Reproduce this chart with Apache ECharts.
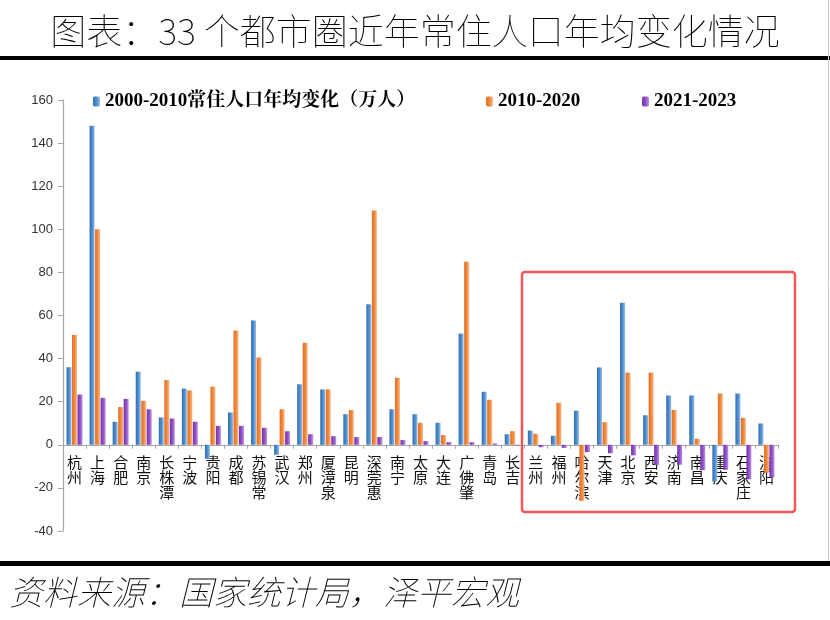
<!DOCTYPE html>
<html>
<head>
<meta charset="utf-8">
<script src="https://cdn.jsdelivr.net/npm/echarts@6/dist/echarts.min.js"></script>
<style>
  html, body { margin: 0; padding: 0; background: #fff; }
  #chart { width: 830px; height: 620px; }
</style>
</head>
<body>
<div id="chart"></div>
<script>
  const CITIES = ['杭州', '上海', '合肥', '南京', '长株潭', '宁波', '贵阳', '成都', '苏锡常', '武汉',
    '郑州', '厦漳泉', '昆明', '深莞惠', '南宁', '太原', '大连', '广佛肇', '青岛', '长吉',
    '兰州', '福州', '哈尔滨', '天津', '北京', '西安', '济南', '南昌', '重庆', '石家庄', '沈阳'];

  const SERIES_NAMES = ['2000-2010常住人口年均变化（万人）', '2010-2020', '2021-2023'];

  const V_2000_2010 = [36, 148, 10.7, 33.9, 12.7, 26.1, -6.5, 15, 57.7, -4.6,
    28.1, 25.7, 14.2, 65.2, 16.5, 14.2, 10.2, 51.6, 24.6, 4.9,
    6.6, 4.2, 15.8, 35.9, 65.9, 13.7, 22.9, 22.9, -17, 23.8, 9.9];

  const V_2010_2020 = [51, 100, 17.5, 20.4, 30.1, 25.2, 27, 53, 40.5, 16.5,
    47.3, 25.7, 16.1, 108.7, 31.1, 10.2, 4.5, 85, 20.9, 6.3,
    5.1, 19.5, -26, 10.5, 33.5, 33.5, 16.2, 2.8, 23.8, 12.5, -13];

  const V_2021_2023 = [23.3, 21.8, 21.3, 16.5, 12.2, 10.7, 8.8, 8.8, 7.9, 6.3,
    4.9, 4.0, 3.6, 3.6, 2.2, 1.7, 1.2, 1.2, 0.6, -0.3,
    -1.1, -1.4, -3.4, -3.9, -4.9, -9.4, -9.2, -11.8, -11.6, -16, -15.2];

  const Y_MIN = -40;
  const Y_MAX = 160;

  function barGradient(dark, mid, light) {
    return new echarts.graphic.LinearGradient(0, 0, 1, 0, [
      { offset: 0, color: dark },
      { offset: 0.55, color: mid },
      { offset: 1, color: light }
    ]);
  }

  const COLORS = [
    barGradient('#2f6db3', '#4f8fd0', '#9cc1e6'),
    barGradient('#e56d22', '#f08a3e', '#f7bd8e'),
    barGradient('#7530ad', '#9155c8', '#c09ae2')
  ];

  const legendFont = {
    fontSize: 19,
    fontWeight: 'bold',
    color: '#000',
    fontFamily: "'Liberation Serif', 'Noto Serif CJK SC', 'Noto Sans CJK SC', serif"
  };

  function legendAt(name, left) {
    return {
      data: [name],
      left: left,
      top: 87,
      itemWidth: 7,
      itemHeight: 10,
      itemGap: 4,
      textStyle: legendFont,
      selectedMode: false
    };
  }

  // grid box; the category axis is lifted from the bottom edge up to the zero line
  const GRID = { left: 63, right: 52, top: 100, bottom: 89 };
  const plotH = 620 - GRID.top - GRID.bottom;
  const zeroOffset = -plotH * (0 - Y_MIN) / (Y_MAX - Y_MIN);

  const option = {
    animation: false,
    backgroundColor: '#fff',
    title: [
      {
        text: '图表：33 个都市圈近年常住人口年均变化情况',
        left: 'center',
        top: 8,
        textStyle: {
          fontSize: 36,
          fontWeight: 'lighter',
          color: '#000',
          fontFamily: "'Noto Sans CJK SC', sans-serif"
        }
      },
      {
        text: '资料来源：国家统计局，泽平宏观',
        left: 4,
        top: 570,
        textStyle: {
          fontSize: 34,
          fontWeight: 'lighter',
          fontStyle: 'italic',
          color: '#000',
          fontFamily: "'Noto Sans CJK SC', sans-serif"
        }
      }
    ],
    legend: [
      legendAt(SERIES_NAMES[0], 88),
      legendAt(SERIES_NAMES[1], 481),
      legendAt(SERIES_NAMES[2], 637)
    ],
    grid: Object.assign({ containLabel: false }, GRID),
    xAxis: {
      type: 'category',
      data: CITIES,
      offset: zeroOffset,
      z: 1,
      axisLine: { onZero: false, lineStyle: { color: '#a6a6a6', width: 1.2 } },
      axisTick: { show: true, length: 4, lineStyle: { color: '#a6a6a6' } },
      axisLabel: {
        interval: 0,
        margin: 10,
        fontSize: 15,
        lineHeight: 15,
        color: '#111',
        fontFamily: "'Noto Sans CJK SC', sans-serif",
        verticalAlign: 'top',
        formatter: (name) => name.split('').join('\n')
      },
      splitLine: { show: false }
    },
    yAxis: {
      type: 'value',
      min: Y_MIN,
      max: Y_MAX,
      interval: 20,
      axisLine: { show: true, lineStyle: { color: '#a6a6a6', width: 1.2 } },
      axisTick: { show: true, length: 5, lineStyle: { color: '#a6a6a6' } },
      axisLabel: {
        fontSize: 13,
        color: '#333',
        margin: 10,
        fontFamily: "'Liberation Sans', Arial, sans-serif"
      },
      splitLine: { show: false }
    },
    series: [
      { name: SERIES_NAMES[0], type: 'bar', z: 5, data: V_2000_2010, barWidth: 5, barGap: '10%', itemStyle: { color: COLORS[0] } },
      { name: SERIES_NAMES[1], type: 'bar', z: 5, data: V_2010_2020, barWidth: 5, barGap: '10%', itemStyle: { color: COLORS[1] } },
      { name: SERIES_NAMES[2], type: 'bar', z: 5, data: V_2021_2023, barWidth: 5, barGap: '10%', itemStyle: { color: COLORS[2] } }
    ],
    graphic: [
      { type: 'rect', shape: { x: 0, y: 56, width: 830, height: 4 }, style: { fill: '#000' }, silent: true },
      { type: 'rect', shape: { x: 0, y: 561, width: 830, height: 5 }, style: { fill: '#000' }, silent: true },
      { type: 'line', shape: { x1: 828.5, y1: 0, x2: 828.5, y2: 561 }, style: { stroke: '#c8c8c8', lineWidth: 1 }, silent: true },
      {
        type: 'rect',
        shape: { x: 522, y: 272, width: 273, height: 240, r: 3 },
        style: { fill: 'none', stroke: '#f0575a', lineWidth: 2.5 },
        silent: true,
        z: 100
      }
    ]
  };

  const myChart = echarts.init(document.getElementById('chart'), null, { renderer: 'canvas' });
  myChart.setOption(option);
  window.addEventListener('resize', myChart.resize);
</script>
</body>
</html>
